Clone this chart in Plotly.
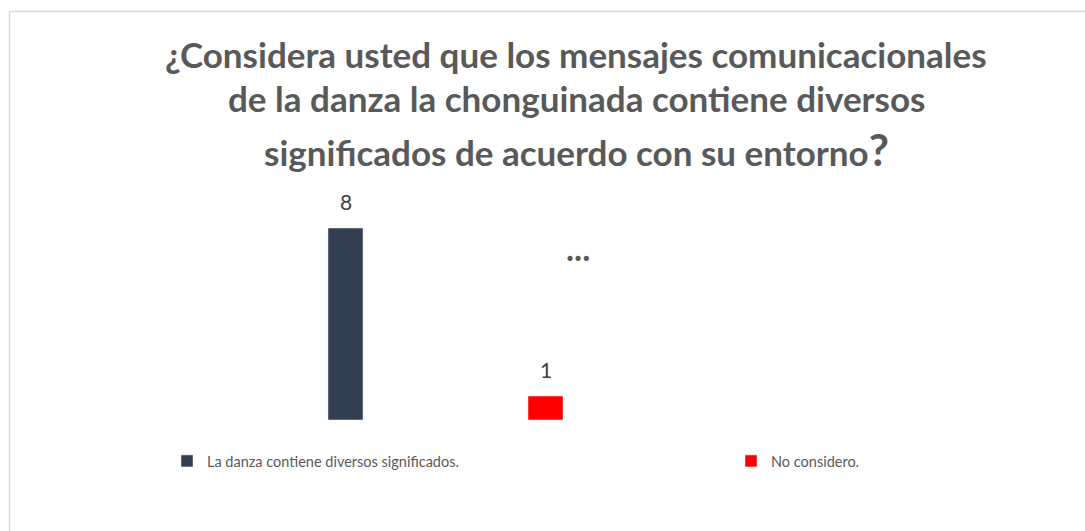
import plotly.graph_objects as go

categories = ["La danza contiene diversos significados.", "No considero."]
values = [8, 1]
colors = ["#333F50", "#FF0000"]
positions = [0, 1]
title_lines = [
    "¿Considera usted que los mensajes comunicacionales",
    "de la danza la chonguinada contiene diversos",
    "significados de acuerdo con su entorno",
]

W, H = 1085, 531
L, R, T, B = 45, 40, 180, 111
PW, PH = W - L - R, H - T - B
entry_widths = [519, 110]


def px(x):
    return (x - L) / PW


def py(y):
    return (H - B - y) / PH


fig = go.Figure()
for cat, v, c, p, ew in zip(categories, values, colors, positions, entry_widths):
    fig.add_trace(go.Bar(x=[p], y=[v], name=cat, marker_color=c, width=0.175,
                         hoverinfo="skip", legendwidth=ew))
    fig.add_annotation(x=p, y=v, xref="x", yref="y", text=str(v), showarrow=False,
                       yanchor="bottom", yshift=12,
                       font=dict(family="Lato", size=21, color="#404040"))

title_font = dict(family="Lato", size=35, color="#595959")
ys = [54, 98, 149]
for i, (line, yy) in enumerate(zip(title_lines, ys)):
    txt = "<b>" + line + "</b>"
    if i == 2:
        txt += "<b><span style='font-size:44px'>?</span></b>"
    fig.add_annotation(x=px(576), y=py(yy), xref="paper", yref="paper", text=txt,
                       showarrow=False, xanchor="center", yanchor="middle",
                       font=title_font)

fig.add_annotation(x=px(578), y=py(247), xref="paper", yref="paper", text="<b>...</b>",
                   showarrow=False, xanchor="center", yanchor="middle",
                   font=dict(family="Lato", size=34, color="#595959"))

fig.add_shape(type="rect", xref="paper", yref="paper",
              x0=px(9.5), x1=px(1100), y0=py(560), y1=py(11.5),
              line=dict(color="#D9D9D9", width=1.5), fillcolor="rgba(0,0,0,0)")

fig.update_layout(
    width=W, height=H,
    margin=dict(l=L, r=R, t=T, b=B, pad=0),
    paper_bgcolor="white", plot_bgcolor="white",
    barmode="overlay",
    showlegend=True,
    legend=dict(orientation="h", x=px(167), y=py(461), xanchor="left", yanchor="middle",
                font=dict(family="Lato", size=14.5, color="#595959"),
                itemwidth=30, traceorder="normal", bgcolor="rgba(0,0,0,0)"),
    xaxis=dict(range=[-1.5025, 3.4975], visible=False, fixedrange=True),
    yaxis=dict(range=[0, 10], visible=False, fixedrange=True),
)

fig.write_html("out.html", config={"displayModeBar": False},
               post_script="document.body.style.margin='0';")
